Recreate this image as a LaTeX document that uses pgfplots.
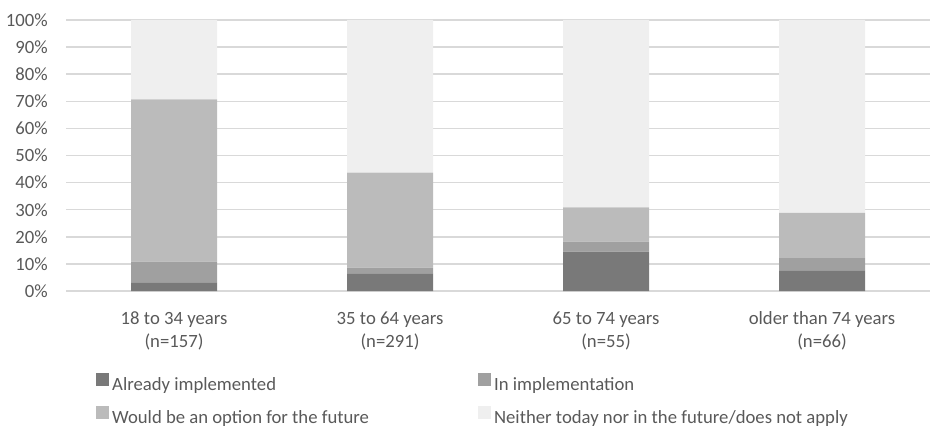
\documentclass[border=0pt]{standalone}
\usepackage{pgfplots}
\pgfplotsset{compat=1.18}
\usepackage{fontspec}
\setmainfont{Carlito}

\definecolor{txt}{HTML}{595959}
\definecolor{gridc}{HTML}{D9D9D9}
\definecolor{cDone}{HTML}{797979}
\definecolor{cImpl}{HTML}{A0A0A0}
\definecolor{cOpt}{HTML}{BBBBBB}
\definecolor{cNone}{HTML}{EFEFEF}

\begin{document}
\fontsize{18.7}{23}\selectfont
\begin{tikzpicture}
\useasboundingbox (0,0) rectangle (930pt,426pt);
\begin{axis}[
  at={(66pt,135pt)}, anchor=south west,
  scale only axis, width=864pt, height=271pt,
  xmin=-0.5, xmax=3.5, ymin=0, ymax=100,
  ybar stacked, bar width=86pt,
  axis line style={draw=none},
  major tick length=0pt,
  ytick={0,10,...,100},
  yticklabels={0\%,10\%,20\%,30\%,40\%,50\%,60\%,70\%,80\%,90\%,100\%},
  ymajorgrids,
  grid style={color=gridc, line width=1.5pt},
  xtick={0,1,2,3},
  xticklabels={{18 to 34 years\\(n=157)},{35 to 64 years\\(n=291)},{65 to 74 years\\(n=55)},{older than 74 years\\(n=66)}},
  xticklabel style={align=center, anchor=north, inner sep=0pt, yshift=-20.7pt,
    font=\fontsize{18.7}{23}\selectfont, text=txt},
  yticklabel style={anchor=east, inner sep=0pt, xshift=-18pt,
    font=\fontsize{18.7}{23}\selectfont, text=txt},
  legend columns=2,
  legend cell align=left,
  legend image code/.code={
    \fill[#1] (0pt,0pt) rectangle (12.5pt,12.5pt);
    \path (16pt,0pt);
  },
  legend style={
    at={(axis description cs:0.0347,-0.3026)}, anchor=north west,
    draw=none, fill=none, inner sep=0pt, row sep=12.5pt,
    nodes={inner sep=0pt, text=txt, font=\fontsize{18.7}{23}\selectfont},
    /tikz/every even column/.append style={column sep=109pt},
  },
]
\addplot[fill=cDone, draw=none] coordinates {(0,3.2) (1,6.5) (2,14.5) (3,7.6)};
\addplot[fill=cImpl, draw=none] coordinates {(0,7.6) (1,2.1) (2,3.7) (3,4.5)};
\addplot[fill=cOpt,  draw=none] coordinates {(0,59.9) (1,35.1) (2,12.7) (3,16.7)};
\addplot[fill=cNone, draw=none] coordinates {(0,29.3) (1,56.3) (2,69.1) (3,71.2)};
\legend{Already implemented, In implementation, Would be an option for the future, Neither today nor in the future/does not apply}
\end{axis}
\end{tikzpicture}
\end{document}
